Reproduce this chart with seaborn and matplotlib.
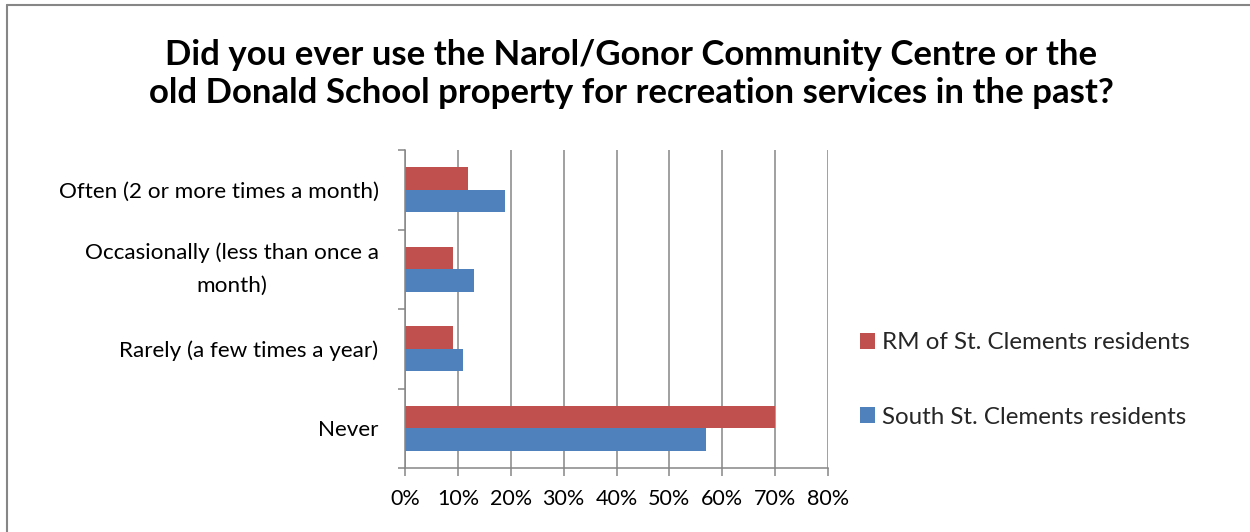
import matplotlib
matplotlib.use("Agg")
import matplotlib.pyplot as plt
import seaborn as sns
import pandas as pd
from matplotlib.lines import Line2D
from matplotlib.ticker import FixedLocator

# ---- data ----
categories = [
    "Often (2 or more times a month)",
    "Occasionally (less than once a\nmonth)",
    "Rarely (a few times a year)",
    "Never",
]
series = ["RM of St. Clements residents", "South St. Clements residents"]
rm_values = [12, 9, 9, 70]
south_values = [19, 13, 11, 57]
x_ticks = [0, 10, 20, 30, 40, 50, 60, 70, 80]
x_tick_labels = ["0%", "10%", "20%", "30%", "40%", "50%", "60%", "70%", "80%"]
title = ("Did you ever use the Narol/Gonor Community Centre or the\n"
         "old Donald School property for recreation services in the past?")

colors = ["#C0504D", "#4F81BD"]
grid_col = "#868686"

sns.set_theme(style="white")
plt.rcParams["font.family"] = ["Lato", "DejaVu Sans"]

df = pd.DataFrame({
    "category": categories * 2,
    "series": [series[0]] * len(categories) + [series[1]] * len(categories),
    "value": rm_values + south_values,
})

W, H = 1250, 532
fig = plt.figure(figsize=(W / 100, H / 100), dpi=100)
ax = fig.add_axes([405 / W, 1 - 468 / H, (828 - 405) / W, (468 - 150) / H])

sns.barplot(data=df, x="value", y="category", hue="series", hue_order=series,
            order=categories, palette=colors, saturation=1, width=0.57,
            orient="h", ax=ax, linewidth=0)

ax.set_xlim(0, 80)
ax.set_xticks(x_ticks)
ax.set_xticklabels(x_tick_labels, fontsize=15.5)
ax.set_xlabel("")
ax.set_ylabel("")
ax.tick_params(axis="y", which="major", length=0, pad=19, labelsize=16.2)
ax.yaxis.set_minor_locator(FixedLocator([-0.5, 0.5, 1.5, 2.5, 3.5]))
ax.tick_params(axis="y", which="minor", left=True, length=5, width=1.1,
               color=grid_col, direction="out")
ax.tick_params(axis="x", which="major", bottom=True, length=6, width=1.1,
               color=grid_col, direction="out", pad=9)
for lab in ax.get_yticklabels():
    lab.set_color("black")
    if "\n" in lab.get_text():
        lab.set_multialignment("center")
        lab.set_linespacing(1.8)
        lab.set_verticalalignment("center")
for lab in ax.get_xticklabels():
    lab.set_color("black")

ax.xaxis.grid(True, color=grid_col, linewidth=1.1)
ax.yaxis.grid(False)
ax.set_axisbelow(True)
for s in ["top", "right"]:
    ax.spines[s].set_visible(False)
for s in ["left", "bottom"]:
    ax.spines[s].set_color(grid_col)
    ax.spines[s].set_linewidth(1.1)

handles, labels = ax.get_legend_handles_labels()
ax.legend(handles, labels, loc="center left",
          bbox_to_anchor=(860 / W, 1 - 380 / H), bbox_transform=fig.transFigure,
          frameon=False, fontsize=17.4, handlelength=0.62, handleheight=0.62,
          handletextpad=0.29, labelspacing=2.2, borderpad=0, borderaxespad=0)

fig.text(631 / W, 1 - 74 / H, title, ha="center", va="center",
         fontsize=25, fontweight="bold", linespacing=1.2, color="black")

fig.add_artist(Line2D([7 / W, 7 / W], [0, 1 - 5 / H], color=grid_col, lw=1.5,
                      transform=fig.transFigure))
fig.add_artist(Line2D([7 / W, 1], [1 - 5 / H, 1 - 5 / H], color=grid_col, lw=1.5,
                      transform=fig.transFigure))

fig.savefig("out.png", dpi=100, facecolor="white")
